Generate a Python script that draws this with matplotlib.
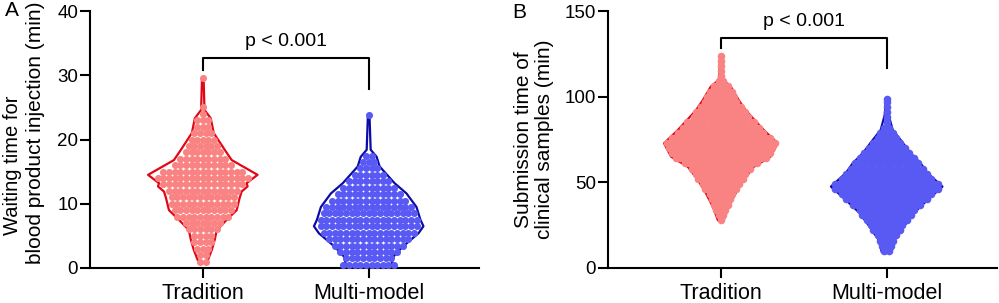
import numpy as np
import matplotlib
matplotlib.use("Agg")
from matplotlib import pyplot as plt

plt.rcParams["font.family"] = ["Liberation Sans", "DejaVu Sans"]

categories = ["Tradition", "Multi-model"]

# panel A: waiting time for blood product injection (min)
# violin outline, relative density read at these levels
a_trad_levels = [0.8, 1.2, 2.8, 4.4, 5.9, 7.5, 9.0, 10.9, 11.9, 12.7, 13.2, 14.5, 16.8, 18.4, 21.0, 23.3, 24.6, 29.5]
a_trad_dens = [1, 5, 9, 12, 14, 24, 34, 37, 39, 45, 44, 55, 29, 22, 11, 8, 1.7, 0.8]
a_multi_levels = [0.0, 1.8, 3.3, 5.4, 6.5, 7.5, 9.5, 11.6, 13.2, 15.8, 17.3, 18.4, 23.8]
a_multi_dens = [22, 25, 34, 50, 55, 52, 48, 38, 26, 11, 8, 2, 0.8]
# dots: number of observations per 1-min bin
a_trad_bins = [1, 2, 3, 4, 5, 6, 7, 8, 9, 10, 11, 12, 13, 14, 15, 16, 17, 18, 19, 20, 21, 22, 23, 24, 25, 29.5]
a_trad_counts = [2, 2, 3, 4, 4, 6, 7, 10, 11, 12, 12, 13, 15, 17, 15, 11, 9, 7, 6, 5, 4, 3, 3, 1, 1, 1]
a_multi_bins = [0.5, 1.5, 2.5, 3.5, 4.5, 5.5, 6.5, 7.5, 8.5, 9.5, 10.5, 11.5, 12.5, 13.5, 14.5, 15.5, 16.5, 17.5, 23.8]
a_multi_counts = [10, 9, 11, 13, 15, 17, 18, 18, 17, 16, 14, 12, 10, 8, 6, 4, 3, 2, 1]

# panel B: submission time of clinical samples (min)
b_trad_levels = [28, 35.8, 43.7, 51.4, 59, 65, 72.8, 80.6, 92, 98, 105.9, 109.8, 123.4]
b_trad_dens = [3, 8, 15, 23, 33, 50, 57, 43, 25, 18, 10, 2, 0.8]
b_multi_levels = [9.5, 16.3, 24, 32, 39.7, 47.5, 55.4, 61.2, 67, 74.7, 80.6, 89.3, 98.5]
b_multi_dens = [5, 8, 17, 27, 41, 56, 41, 34, 24, 14, 6, 2, 0.8]
b_trad_bins = list(range(28, 125, 3))
b_trad_counts = [1, 2, 3, 4, 5, 6, 8, 9, 11, 12, 14, 17, 21, 23, 24, 25, 23, 20, 18, 16,
                 13, 12, 10, 8, 7, 6, 4, 2, 1, 1, 1, 1, 1]
b_multi_bins = list(range(10, 98, 3)) + [98.5]
b_multi_counts = [2, 3, 4, 5, 7, 8, 10, 12, 13, 16, 19, 21, 24, 24, 21, 19, 17, 15, 13, 11,
                  9, 7, 5, 4, 2, 1, 1, 1, 1, 1, 1]

PINK, RED = "#F98383", "#E30613"
BLUE, NAVY = "#5959F3", "#0B0BA6"


def violin(ax, pos, levels, dens, bins, counts, fill, edge, dx, ms):
    dens = np.array(dens) / 55.0 * 0.33
    levels = np.array(levels)
    xs = np.concatenate([pos - dens, (pos + dens)[::-1]])
    ys = np.concatenate([levels, levels[::-1]])
    ax.plot(xs, ys, color=edge, lw=1.6, zorder=2)
    px, py = [], []
    for y, n in zip(bins, counts):
        for i in range(n):
            px.append(pos + (i - (n - 1) / 2) * dx)
            py.append(y)
    ax.scatter(px, py, s=ms, color=fill, linewidths=0, zorder=3, clip_on=False)


def style(ax, ylim, yticks):
    ax.set_xlim(-0.68, 1.665)
    ax.set_ylim(*ylim)
    ax.set_yticks(yticks)
    ax.set_xticks([0, 1])
    ax.set_xticklabels(categories, fontsize=15.5)
    ax.tick_params(axis="y", labelsize=13.5, length=7, width=1.5, pad=1.5)
    ax.tick_params(axis="x", length=7, width=1.5, pad=4)
    for s in ["top", "right"]:
        ax.spines[s].set_visible(False)
    for s in ["left", "bottom"]:
        ax.spines[s].set_linewidth(1.5)


def bracket(ax, left, top, right, text_y):
    ax.plot([0, 0, 1, 1], [left, top, top, right], color="black", lw=1.5, clip_on=False)
    ax.text(0.5, text_y, "p < 0.001", ha="center", va="center", fontsize=14)


fig = plt.figure(figsize=(9.99, 3.03), dpi=100)
axA = fig.add_axes([90 / 999, 35 / 303, 389 / 999, 257 / 303])
axB = fig.add_axes([608 / 999, 35 / 303, 389 / 999, 257 / 303])

violin(axA, 0, a_trad_levels, a_trad_dens, a_trad_bins, a_trad_counts, PINK, RED, 0.034, 26)
violin(axA, 1, a_multi_levels, a_multi_dens, a_multi_bins, a_multi_counts, BLUE, NAVY, 0.034, 26)
style(axA, (0, 40), [0, 10, 20, 30, 40])
bracket(axA, 30.8, 32.7, 27.8, 35.3)
# the two label lines in panel A are not centred on each other
axA.text(-0.198, 0.40, "Waiting time for", rotation=90, fontsize=14.5,
         ha="center", va="center", transform=axA.transAxes)
axA.text(-0.139, 0.525, "blood product injection (min)", rotation=90, fontsize=15,
         ha="center", va="center", transform=axA.transAxes)

violin(axB, 0, b_trad_levels, b_trad_dens, b_trad_bins, b_trad_counts, PINK, RED, 0.027, 30)
violin(axB, 1, b_multi_levels, b_multi_dens, b_multi_bins, b_multi_counts, BLUE, NAVY, 0.027, 30)
style(axB, (0, 150), [0, 50, 100, 150])
axB.set_ylabel("Submission time of\nclinical samples (min)", fontsize=15, linespacing=1.1, labelpad=8)
bracket(axB, 128.4, 134, 117, 143.6)

fig.text(12 / 999, 1 - 11 / 303, "A", fontsize=15, ha="center", va="center")
fig.text(519 / 999, 1 - 12 / 303, "B", fontsize=15, ha="center", va="center")

fig.savefig("out.png", dpi=100)
